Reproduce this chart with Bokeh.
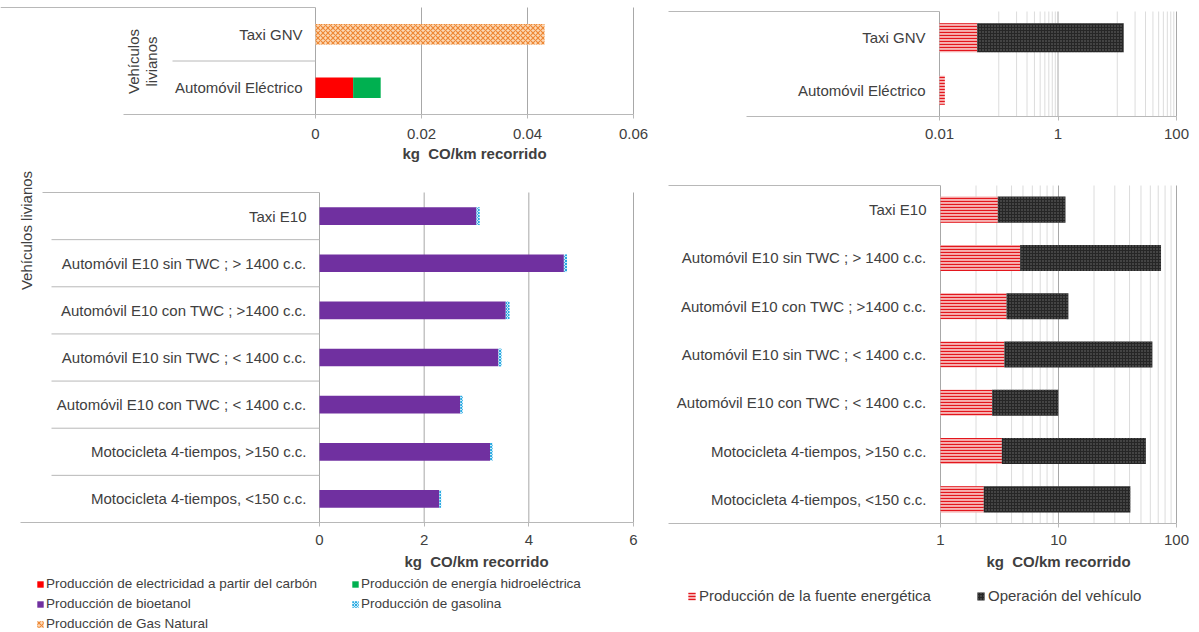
import math

from bokeh.core.properties import value
from bokeh.embed import file_html
from bokeh.layouts import column, row
from bokeh.models import FixedTicker, Label, Legend, LegendItem, Range1d
from bokeh.plotting import figure
from bokeh.resources import INLINE

FONT = "Liberation Sans"
TEXT = "#404040"
LINE = "#b8b8b8"
MAJOR = "#a8a8a8"
MINOR = "#dcdcdc"

# ---------------- data (kg CO por km recorrido) ----------------
light_vehicles = ["Taxi GNV", "Automóvil Eléctrico"]
natural_gas = [0.0432, 0.0]
coal_power = [0.0, 0.0071]
hydro_power = [0.0, 0.0052]
light_operation = [12.8, 0.0]

e10_vehicles = [
    "Taxi E10",
    "Automóvil E10 sin TWC ; > 1400 c.c.",
    "Automóvil E10 con TWC ; >1400 c.c.",
    "Automóvil E10 sin TWC ; < 1400 c.c.",
    "Automóvil E10 con TWC ; < 1400 c.c.",
    "Motocicleta 4-tiempos, >150 c.c.",
    "Motocicleta 4-tiempos, <150 c.c.",
]
bioethanol = [3.00, 4.67, 3.56, 3.42, 2.69, 3.26, 2.29]
gasoline = [0.06, 0.06, 0.07, 0.06, 0.05, 0.05, 0.035]
e10_operation = [8.4, 69.2, 8.5, 59.0, 7.2, 51.7, 38.3]

gnv_ticks = [0, 0.02, 0.04, 0.06]
gnv_tick_labels = ["0", "0.02", "0.04", "0.06"]
gnv_log_ticks = [0.01, 1, 100]
gnv_log_tick_labels = ["0.01", "1", "100"]
e10_ticks = [0, 2, 4, 6]
e10_tick_labels = ["0", "2", "4", "6"]
e10_log_ticks = [1, 10, 100]
e10_log_tick_labels = ["1", "10", "100"]

group_label = "Vehículos livianos"
# the second blank is a no-break space so SVG keeps the double gap
axis_title = "kg \u00a0CO/km recorrido"

lbl_coal = "Producción de electricidad a partir del carbón"
lbl_hydro = "Producción de energía hidroeléctrica"
lbl_bio = "Producción de bioetanol"
lbl_gasoline = "Producción de gasolina"
lbl_natgas = "Producción de Gas Natural"
lbl_source = "Producción de la fuente energética"
lbl_operation = "Operación del vehículo"

STYLE = {
    "coal": dict(fill_color="#ff0000"),
    "hydro": dict(fill_color="#00b050"),
    "bio": dict(fill_color="#7030a0"),
    "gasoline": dict(fill_color="#c8ecfb", hatch_pattern="diagonal_cross",
                     hatch_color="#29a9e1", hatch_scale=3, hatch_weight=1),
    "natgas": dict(fill_color="#fcd9b6", hatch_pattern="diagonal_cross",
                   hatch_color="#ee8836", hatch_scale=5, hatch_weight=1.2),
    "source": dict(fill_color="#f6b3b3", hatch_pattern="horizontal_line",
                   hatch_color="#e3161d", hatch_scale=3, hatch_weight=1.2),
    "operation": dict(fill_color="#262626", hatch_pattern="dot",
                      hatch_color="#707070", hatch_scale=3, hatch_weight=0.8),
}


class Panel:
    """A figure whose frame fills the whole canvas; the x axis sits at y = 0."""

    def __init__(self, width, height, xcal, ycal, log=False):
        self.xcal, self.ycal, self.log = xcal, ycal, log
        self.n = ycal[2]
        self.centers = [self.n - 0.5 - i for i in range(self.n)]
        p = figure(
            width=width, height=height,
            x_axis_type="log" if log else "linear",
            x_range=Range1d(self.x(0), self.x(width)),
            y_range=Range1d(self.y(height), self.y(0)),
            y_axis_location=None, toolbar_location=None, output_backend="svg",
            min_border=0,
        )
        p.outline_line_color = None
        p.grid.visible = False
        self.fig = p

    def x(self, px):
        p0, v0, p1, v1 = self.xcal
        if self.log:
            a, b = math.log10(v0), math.log10(v1)
            return 10 ** (a + (px - p0) * (b - a) / (p1 - p0))
        return v0 + (px - p0) * (v1 - v0) / (p1 - p0)

    def y(self, py):
        pa, pt, n = self.ycal
        return (pa - py) * n / (pa - pt)

    def axis(self, ticks, labels, standoff):
        ax = self.fig.xaxis[0]
        ax.fixed_location = 0
        ax.ticker = FixedTicker(ticks=ticks, minor_ticks=[])
        ax.major_label_overrides = {t: s for t, s in zip(ticks, labels)}
        ax.axis_line_color = None
        ax.major_tick_in = 0
        ax.major_tick_out = 4
        ax.major_tick_line_color = LINE
        ax.minor_tick_line_color = None
        ax.major_label_text_font = FONT
        ax.major_label_text_font_size = "15px"
        ax.major_label_text_color = TEXT
        ax.major_label_standoff = standoff

    def gridlines(self, xs, color):
        self.fig.segment(x0=xs, y0=[0] * len(xs), x1=xs, y1=[self.n] * len(xs),
                         line_color=color, line_width=1)

    def rules(self, x0s, x1s, ys):
        self.fig.segment(x0=x0s, y0=ys, x1=x1s, y1=ys, line_color=LINE, line_width=1)

    def categories(self, names, x, offset):
        self.fig.text(x=[x] * len(names), y=self.centers, text=names, x_offset=-offset,
                      text_align="right", text_baseline="middle",
                      text_font=value(FONT), text_font_size="15px", text_color=TEXT)

    def title(self, x, py):
        self.fig.add_layout(Label(x=x, y=self.y(py), text=axis_title, text_font=FONT,
                                  text_font_size="15px", text_font_style="bold",
                                  text_color=TEXT, text_align="center",
                                  text_baseline="middle"))

    def legend(self, items, x, y, font_size, row_h, gap, gw, gh, standoff):
        self.fig.add_layout(Legend(
            items=[LegendItem(label=value(t), renderers=[r]) for t, r in items],
            location=(x, y), orientation="vertical", padding=0, margin=0, spacing=gap,
            glyph_width=gw, glyph_height=gh, label_height=row_h, label_standoff=standoff,
            label_text_font=FONT, label_text_font_size=font_size, label_text_color=TEXT,
            border_line_color=None, background_fill_alpha=0))


def log_minors(ticks):
    out = []
    for a, b in zip(ticks[:-1], ticks[1:]):
        out += [b * k / 10 for k in range(1, 10) if b * k / 10 > a * 1.0001]
    return out


# ---------------- top left: GNV / eléctrico, linear ----------------
tl = Panel(660, 166, (315, gnv_ticks[0], 633, gnv_ticks[-1]), (114, 7, len(light_vehicles)))
tl.axis(gnv_ticks, gnv_tick_labels, 10)
tl.gridlines(gnv_ticks, MAJOR)
tl.rules([tl.x(0), tl.x(172), tl.x(123)], [gnv_ticks[0], gnv_ticks[0], gnv_ticks[-1]],
         [tl.n, 1, 0])
tl.categories(light_vehicles, gnv_ticks[0], 13)
for word, px in zip(group_label.split(), (133, 151)):
    tl.fig.text(x=[tl.x(px)], y=[tl.y(61)], text=[word], angle=math.pi / 2,
                text_align="center", text_baseline="middle", text_font=value(FONT),
                text_font_size="15px", text_color=TEXT)
tl_keys = ["natgas", "coal", "hydro"]
tl_src = dict(y=tl.centers, natgas=natural_gas, coal=coal_power, hydro=hydro_power)
tl_bars = tl.fig.hbar_stack(tl_keys, y="y", height=0.385, source=tl_src, line_color=None)
for r, key in zip(tl_bars, tl_keys):
    r.glyph.update(**STYLE[key])
tl.title((gnv_ticks[0] + gnv_ticks[-1]) / 2, 153)

# ---------------- top right: GNV / eléctrico, log ----------------
tr = Panel(539, 166, (279, gnv_log_ticks[0], 516, gnv_log_ticks[-1]),
           (116, 11, len(light_vehicles)), log=True)
tr.axis(gnv_log_ticks, gnv_log_tick_labels, 8)
tr.gridlines(log_minors(gnv_log_ticks), MINOR)
tr.gridlines(gnv_log_ticks, MAJOR)
tr.rules([tr.x(8), tr.x(86)], [gnv_log_ticks[0], gnv_log_ticks[-1]], [tr.n, 0])
tr.categories(light_vehicles, gnv_log_ticks[0], 14)
light_source = [g + c + h for g, c, h in zip(natural_gas, coal_power, hydro_power)]
light_total = [s + o for s, o in zip(light_source, light_operation)]
tr.fig.hbar(y=tr.centers, left=[gnv_log_ticks[0]] * tr.n, right=light_source,
            height=0.55, line_color=None, **STYLE["source"])
tr.fig.hbar(y=tr.centers, left=light_source, right=light_total,
            height=0.55, line_color=None, **STYLE["operation"])

# ---------------- bottom left: E10, linear ----------------
bl = Panel(660, 466, (319, e10_ticks[0], 633, e10_ticks[-1]), (356, 26, len(e10_vehicles)))
bl.axis(e10_ticks, e10_tick_labels, 8)
bl.gridlines(e10_ticks, MAJOR)
seps = list(range(1, bl.n))
bl.rules([bl.x(42)] + [bl.x(51)] * len(seps) + [bl.x(20)],
         [e10_ticks[0]] * (len(seps) + 1) + [e10_ticks[-1]],
         [bl.n] + seps + [0])
bl.categories(e10_vehicles, e10_ticks[0], 13)
bl.fig.text(x=[bl.x(26)], y=[bl.y(64)], text=[group_label], angle=math.pi / 2,
            text_align="center", text_baseline="middle", text_font=value(FONT),
            text_font_size="15px", text_color=TEXT)
bl_src = dict(y=bl.centers, bio=bioethanol, gasoline=gasoline)
bl_bars = bl.fig.hbar_stack(["bio", "gasoline"], y="y", height=0.375,
                            source=bl_src, line_color=None)
for r, key in zip(bl_bars, ["bio", "gasoline"]):
    r.glyph.update(**STYLE[key])
# hidden copies of the top-left series, so the shared legend below can show their keys
keys = dict(zip(tl_keys, bl.fig.hbar_stack(tl_keys, y="y", height=0.385, source=tl_src,
                                           line_color=None, visible=False)))
for key, r in keys.items():
    r.glyph.update(**STYLE[key])
bl.title((e10_ticks[0] + e10_ticks[-1]) / 2, 395)
bl.legend([(lbl_coal, keys["coal"]), (lbl_bio, bl_bars[0]), (lbl_natgas, keys["natgas"])],
          36, 1, "13.5px", 14, 5, 8, 8, 2)
bl.legend([(lbl_hydro, keys["hydro"]), (lbl_gasoline, bl_bars[1])],
          351, 21, "13.5px", 14, 5, 8, 8, 2)

# ---------------- bottom right: E10, log ----------------
br = Panel(539, 466, (280, e10_log_ticks[0], 516, e10_log_ticks[-1]),
           (357, 19, len(e10_vehicles)), log=True)
br.axis(e10_log_ticks, e10_log_tick_labels, 7)
br.gridlines(log_minors(e10_log_ticks), MINOR)
br.gridlines(e10_log_ticks, MAJOR)
br.rules([br.x(8), br.x(8)], [e10_log_ticks[0], e10_log_ticks[-1]], [br.n, 0])
br.categories(e10_vehicles, e10_log_ticks[0], 14)
e10_source = [b + g for b, g in zip(bioethanol, gasoline)]
e10_total = [s + o for s, o in zip(e10_source, e10_operation)]
r_src = br.fig.hbar(y=br.centers, left=[e10_log_ticks[0]] * br.n, right=e10_source,
                    height=0.54, line_color=None, **STYLE["source"])
r_op = br.fig.hbar(y=br.centers, left=e10_source, right=e10_total,
                   height=0.54, line_color=None, **STYLE["operation"])
br.title(math.sqrt(e10_log_ticks[0] * e10_log_ticks[-1]), 395)
br.legend([(lbl_source, r_src)], 27, 28, "15px", 17, 0, 9, 10, 3)
br.legend([(lbl_operation, r_op)], 316, 28, "15px", 17, 0, 9, 10, 3)

page = row(column(tl.fig, bl.fig), column(tr.fig, br.fig))
open("out.html", "w").write(file_html(page, INLINE))
